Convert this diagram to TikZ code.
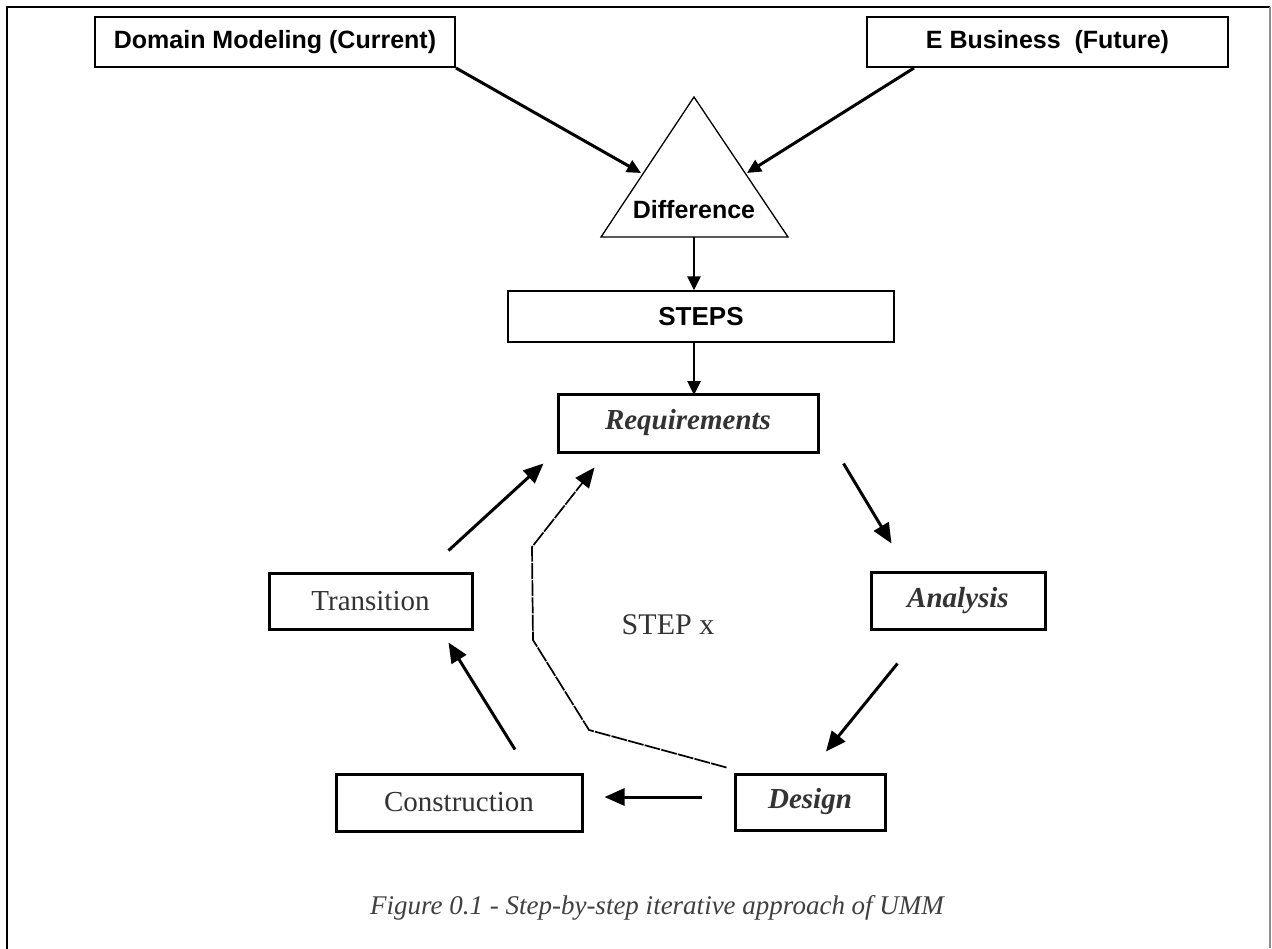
\documentclass[tikz,border=0pt]{standalone}
\usepackage{fontspec}
\setmainfont{Liberation Serif}
\setsansfont{Liberation Sans}
\usetikzlibrary{arrows.meta}
\begin{document}
\begin{tikzpicture}[x=1pt,y=-1pt,
  topbox/.style={draw, line width=2pt, inner sep=0pt, font=\sffamily\bfseries\fontsize{25}{30}\selectfont},
  cyclebox/.style={draw, line width=3pt, inner sep=0pt, text=black!80, font=\fontsize{29}{34}\selectfont},
  arr/.style={line width=3pt, -{Triangle[length=20pt,width=17pt]}},
  smallarr/.style={line width=2.5pt, -{Triangle[length=14pt,width=13pt]}},
  dasharr/.style={line width=1.7pt, dash pattern=on 16pt off 1.2pt, -{Triangle[length=20pt,width=17pt]}}
]
\useasboundingbox (0,0) rectangle (1272,948);
\fill[white] (0,0) rectangle (1272,948);
% frame
\draw[line width=2.7pt, line cap=rect] (7,948) -- (7,7) -- (1269,7);
\draw[line width=1.2pt, black!45] (1270,7) -- (1270,948);

% top boxes
\node[topbox, minimum width=360pt, minimum height=50pt] (dom) at (275,42) {Domain Modeling (Current)};
\node[topbox, minimum width=361pt, minimum height=50pt] (ebiz) at (1047.5,42) {E Business\ \ (Future)};

% triangle
\coordinate (tA) at (694,97);
\coordinate (tL) at (601,237);
\coordinate (tR) at (788,237);
\coordinate (tB) at (694,237);
\draw[line width=1.3pt, line join=miter] (tA) -- (tL) -- (tR) -- cycle;
\node[font=\sffamily\bfseries\fontsize{25}{30}\selectfont] (diff) at (694,210) {Difference};
\coordinate (tipL) at (641,173);
\coordinate (tipR) at (747,173);
\draw[smallarr, line width=3pt] (dom.south east) -- (tipL);
\draw[smallarr, line width=3pt] ([xshift=48pt]ebiz.south west) -- (tipR);

% steps
\node[draw, line width=1.3pt, minimum width=386pt, minimum height=51pt, inner sep=0pt,
      font=\sffamily\bfseries\fontsize{26}{31}\selectfont] (steps) at (701,316.5) {STEPS};
\draw[smallarr] (tB) -- (tB |- steps.north);
\draw[smallarr] (steps.south -| tB) -- ([yshift=-1pt]tB |- 0,394);

% cycle boxes
\node[cyclebox, minimum width=260pt, minimum height=58pt] (req) at (688,423) {\textbf{\textit{Requirements}}};
\node[cyclebox, minimum width=174pt, minimum height=57pt] (ana) at (958,600.5) {\textbf{\textit{Analysis}}};
\node[cyclebox, minimum width=150pt, minimum height=56pt] (des) at (810,802) {\textbf{\textit{Design}}};
\node[cyclebox, minimum width=246pt, minimum height=57pt] (con) at (459,802.5) {Construction};
\node[cyclebox, minimum width=203pt, minimum height=56pt] (tra) at (370.5,601) {Transition};

\node[text=black!80, font=\fontsize{30}{34}\selectfont] (stepx) at (668,625) {STEP x};

% cycle arrows
\draw[arr] ([shift={(24,10)}]req.south east) -- ([shift={(22,-27)}]ana.north west);
\draw[arr] ([shift={(28,33)}]ana.south west) -- ([shift={(16,-21)}]des.north);
\draw[arr] ([shift={(-32,-5)}]des.west) -- ([shift={(21,-5.5)}]con.east);
\draw[arr] ([shift={(56,-23)}]con.north) -- ([shift={(-25,12)}]tra.south east);
\draw[arr] ([shift={(-25,-21)}]tra.north east) -- ([shift={(-13,10)}]req.south west);
\draw[dasharr] ([shift={(-7,-5)}]des.north west) -- (589,730) -- (533,640) -- (532,547) -- ([shift={(38,14)}]req.south west);

% caption
\node[text=black!75, font=\itshape\fontsize{27}{32}\selectfont] (cap) at (657,908) {Figure 0.1 - Step-by-step iterative approach of UMM};
\end{tikzpicture}
\end{document}
